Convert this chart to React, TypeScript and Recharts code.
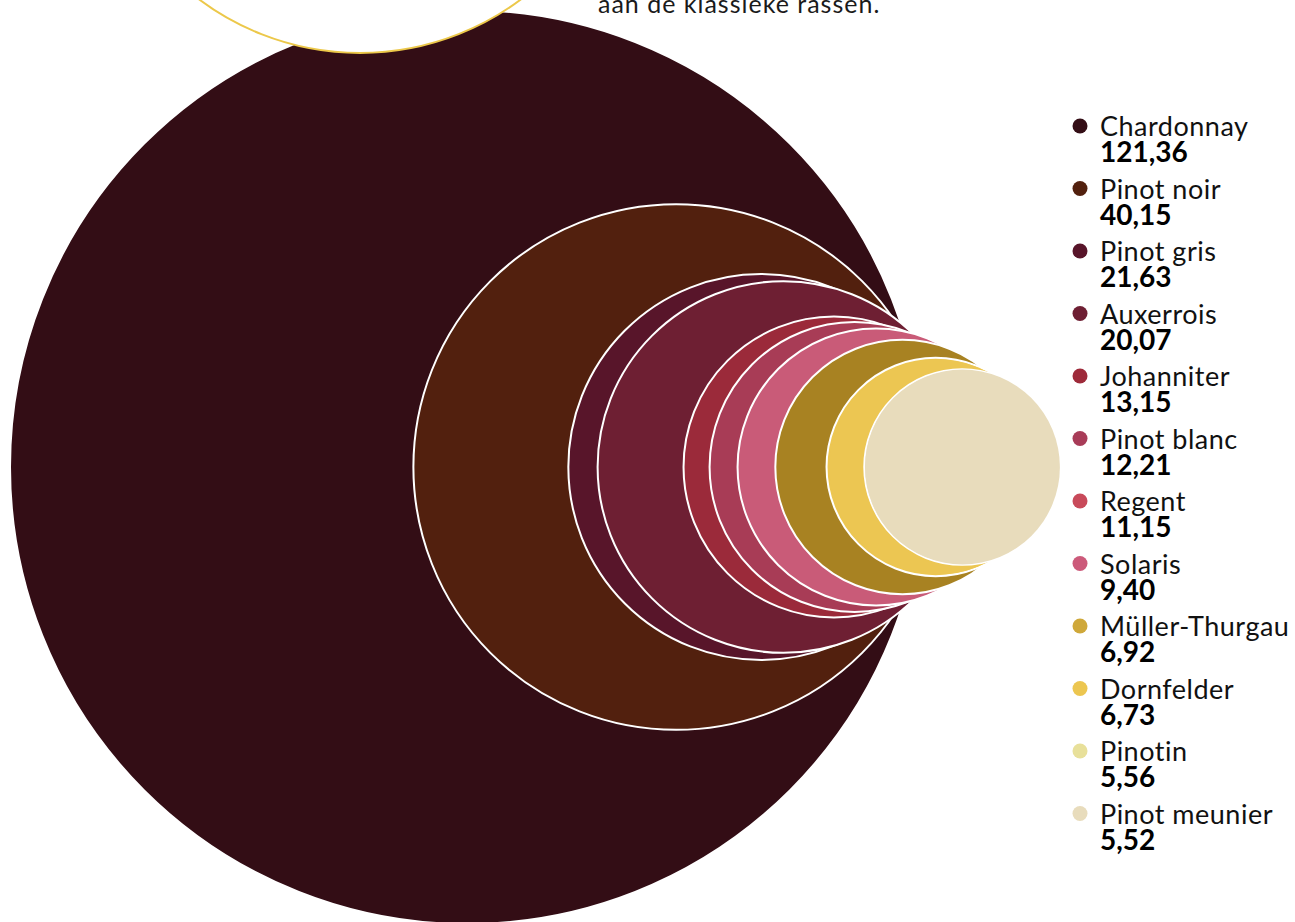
import React from "react";
import { ScatterChart, Scatter, XAxis, YAxis, ZAxis } from "recharts";

// oppervlakte per druivenras (ha)
const varieties = [
  "Chardonnay",
  "Pinot noir",
  "Pinot gris",
  "Auxerrois",
  "Johanniter",
  "Pinot blanc",
  "Regent",
  "Solaris",
  "Müller-Thurgau",
  "Dornfelder",
  "Pinotin",
  "Pinot meunier",
];
const hectares = [121.36, 40.15, 21.63, 20.07, 13.15, 12.21, 11.15, 9.4, 6.92, 6.73, 5.56, 5.52];

const dotColors = [
  "#340e16",
  "#52200e",
  "#58152a",
  "#6e1f33",
  "#9e2a3a",
  "#a83c58",
  "#c84a5a",
  "#cc5a7a",
  "#cfa83a",
  "#ecc650",
  "#e8e09a",
  "#e8dcbc",
];
const circleColors = [
  "#330d15",
  "#52200e",
  "#58152a",
  "#6e1f33",
  "#9b2a3a",
  "#a83c56",
  "#c95b78",
  "#a88222",
  "#ecc652",
  "#ecc652",
  "#e8dcbc",
  "#e8dcbc",
];

const W = 1295;
const H = 922;
const MAX_R = 457;
const CY = 467;
const FIRST_RIGHT = 924;
const STEP = 15.1;

const maxValue = Math.max(...hectares);
const fmt = (v: number) => v.toFixed(2).replace(".", ",");

// circles line up with evenly spaced right edges; near-equal values share a slot
const slots: number[] = [];
hectares.forEach((v, i) => {
  if (i === 0) slots.push(0);
  else if (hectares[i - 1] / v < 1.05) slots.push(slots[i - 1]);
  else slots.push(slots[i - 1] + 1);
});

const series = varieties.map((name, i) => {
  const r = MAX_R * Math.sqrt(hectares[i] / maxValue);
  const right = FIRST_RIGHT + slots[i] * STEP;
  return {
    name,
    data: [
      {
        x: right - r,
        y: CY,
        z: hectares[i],
        fill: circleColors[i],
        outlined: i === 0 || slots[i] !== slots[i - 1],
      },
    ],
  };
});

const Bubble = (props: any) => {
  const { cx, cy, width, payload } = props;
  return (
    <circle
      cx={cx}
      cy={cy}
      r={width / 2}
      fill={payload.fill}
      stroke={payload.outlined ? "#ffffff" : "none"}
      strokeWidth={2}
    />
  );
};

export default function App() {
  return (
    <div
      style={{
        position: "fixed",
        left: 0,
        top: 0,
        width: W,
        height: H,
        overflow: "hidden",
        background: "#ffffff",
        fontFamily: "Lato, sans-serif",
      }}
    >
      <ScatterChart width={W} height={H} margin={{ top: 0, right: 0, bottom: 0, left: 0 }}>
        <XAxis type="number" dataKey="x" domain={[0, W]} hide />
        <YAxis type="number" dataKey="y" domain={[0, H]} reversed hide />
        <ZAxis type="number" dataKey="z" domain={[0, maxValue]} range={[0, Math.PI * MAX_R * MAX_R]} />
        {series.map((s) => (
          <Scatter
            key={s.name}
            name={s.name}
            data={s.data}
            shape={Bubble}
            isAnimationActive={false}
          />
        ))}
      </ScatterChart>

      <svg
        width={W}
        height={H}
        style={{ position: "absolute", left: 0, top: 0, pointerEvents: "none" }}
      >
        <circle cx={360} cy={-215} r={268} fill="#ffffff" stroke="#ecc84a" strokeWidth={2} />
        <text
          x={598}
          y={13}
          fontSize={25}
          letterSpacing={1}
          fill="#1a1a1a"
          fontFamily="Lato, sans-serif"
        >
          aan de klassieke rassen.
        </text>

        {varieties.map((name, i) => {
          const y = 126 + i * 62.5;
          return (
            <g key={name}>
              <circle cx={1080} cy={y} r={7.5} fill={dotColors[i]} />
              <text
                x={1100}
                y={y + 10}
                fontSize={27}
                letterSpacing={0.5}
                fill="#111"
                fontFamily="Lato, sans-serif"
              >
                {name}
              </text>
              <text
                x={1100}
                y={y + 36}
                fontSize={28}
                fontWeight={700}
                fill="#000"
                fontFamily="Lato, sans-serif"
              >
                {fmt(hectares[i])}
              </text>
            </g>
          );
        })}
      </svg>
    </div>
  );
}
